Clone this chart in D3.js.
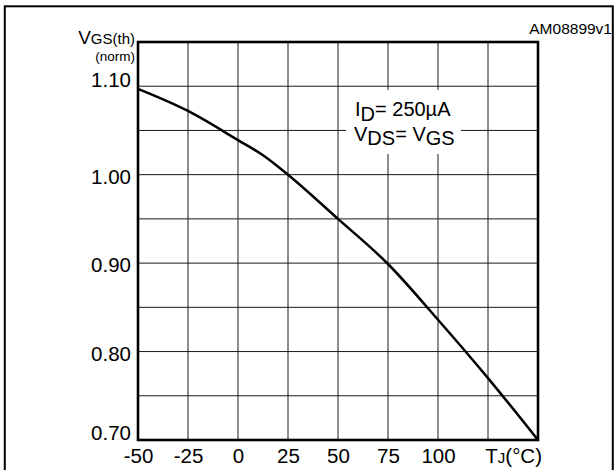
<!DOCTYPE html>
<html>
<head>
<meta charset="utf-8">
<script src="https://cdn.jsdelivr.net/npm/d3@7"></script>
<style>
  html, body { margin: 0; padding: 0; background: #fff; }
  svg { display: block; font-family: "Liberation Sans", Arial, Helvetica, sans-serif; }
</style>
</head>
<body>
<svg id="chart" width="615" height="470"></svg>
<script>
// ---- data ----
const tempC = [-50, -25, 0, 12.5, 25, 50, 75, 100, 125, 150];
const vgsNorm = [1.097, 1.072, 1.039, 1.022, 1.000, 0.950, 0.899, 0.836, 0.770, 0.700];
const xTickValues = [-50, -25, 0, 25, 50, 75, 100];
const xTickLabels = ["-50", "-25", "0", "25", "50", "75", "100"];
const yTickValues = [1.10, 1.00, 0.90, 0.80, 0.70];
const yTickLabels = ["1.10", "1.00", "0.90", "0.80", "0.70"];
const xGridValues = [-25, 0, 25, 50, 75, 100, 125];
const yGridValues = [1.10, 1.05, 1.00, 0.95, 0.90, 0.85, 0.80, 0.75];

const svg = d3.select("#chart");
const plot = { left: 138, right: 538, top: 42, bottom: 440 };

const x = d3.scaleLinear().domain([-50, 150]).range([plot.left, plot.right]);
const y = d3.scaleLinear().domain([0.70, 1.15]).range([plot.bottom, plot.top]);

// outer border
svg.append("rect")
  .attr("x", 4.8).attr("y", 6.3)
  .attr("width", 608).attr("height", 480)
  .attr("fill", "none").attr("stroke", "#000").attr("stroke-width", 2);

// grid
const grid = svg.append("g").attr("stroke", "#1a1a1a").attr("stroke-width", 1);
grid.selectAll("line.v").data(xGridValues).join("line")
  .attr("class", "v")
  .attr("x1", d => x(d)).attr("x2", d => x(d))
  .attr("y1", plot.top).attr("y2", plot.bottom);
grid.selectAll("line.h").data(yGridValues).join("line")
  .attr("class", "h")
  .attr("x1", plot.left).attr("x2", plot.right)
  .attr("y1", d => y(d)).attr("y2", d => y(d));

// curve
const line = d3.line()
  .x((d, i) => x(tempC[i]))
  .y(d => y(d))
  .curve(d3.curveMonotoneX);
svg.append("path")
  .datum(vgsNorm)
  .attr("d", line)
  .attr("fill", "none")
  .attr("stroke", "#000")
  .attr("stroke-width", 2.5);

// annotation with white background
svg.append("rect")
  .attr("x", 346).attr("y", 90).attr("width", 115).attr("height", 64)
  .attr("fill", "#fff");
const ann1 = svg.append("text").attr("x", 355).attr("y", 116)
  .attr("font-size", 20).attr("fill", "#000");
ann1.append("tspan").text("I");
ann1.append("tspan").attr("dy", 4.5).text("D");
ann1.append("tspan").attr("dy", -4.5).text("= 250µA");
const ann2 = svg.append("text").attr("x", 354).attr("y", 140.5)
  .attr("font-size", 20).attr("fill", "#000");
ann2.append("tspan").text("V");
ann2.append("tspan").attr("dy", 4.5).text("DS");
ann2.append("tspan").attr("dy", -4.5).text("= V");
ann2.append("tspan").attr("dy", 4.5).text("GS");

// plot frame
svg.append("rect")
  .attr("x", plot.left).attr("y", plot.top)
  .attr("width", plot.right - plot.left).attr("height", plot.bottom - plot.top)
  .attr("fill", "none").attr("stroke", "#000").attr("stroke-width", 2.6);

// axes (labels only, via d3 axis)
const xAxis = d3.axisBottom(x)
  .tickValues(xTickValues)
  .tickFormat((d, i) => xTickLabels[i])
  .tickSize(0).tickPadding(0);
const gx = svg.append("g").attr("transform", `translate(0,${plot.bottom})`).call(xAxis);
gx.select(".domain").remove();
gx.selectAll("text")
  .attr("font-size", 20.5)
  .attr("font-family", "Liberation Sans, Arial, sans-serif")
  .attr("fill", "#000")
  .attr("dy", null)
  .attr("y", 22.5);

const yAxis = d3.axisLeft(y)
  .tickValues(yTickValues)
  .tickFormat((d, i) => yTickLabels[i])
  .tickSize(0).tickPadding(0);
const gy = svg.append("g").attr("transform", `translate(${plot.left - 7},0)`).call(yAxis);
gy.select(".domain").remove();
gy.selectAll("text")
  .attr("font-size", 20.5)
  .attr("font-family", "Liberation Sans, Arial, sans-serif")
  .attr("fill", "#000")
  .attr("dy", "0.32em")
  .attr("y", (d, i) => (i === 0 ? -6 : i === yTickValues.length - 1 ? -7 : 2));

// x axis title T_J(°C)
const xt = svg.append("text").attr("x", 542).attr("y", 462.5)
  .attr("text-anchor", "end").attr("font-size", 20.5).attr("fill", "#000");
xt.append("tspan").text("T");
xt.append("tspan").attr("font-size", 15).text("J");
xt.append("tspan").text("(°C)");

// y axis title V_GS(th) (norm)
const yt = svg.append("text").attr("x", 135).attr("y", 43.5)
  .attr("text-anchor", "end").attr("fill", "#000");
yt.append("tspan").attr("font-size", 19).text("V");
yt.append("tspan").attr("font-size", 15).text("GS(th)");
svg.append("text").attr("x", 135).attr("y", 60.5)
  .attr("text-anchor", "end").attr("font-size", 13.5).attr("fill", "#000")
  .text("(norm)");

// figure id
svg.append("text").attr("x", 612).attr("y", 33.5)
  .attr("text-anchor", "end").attr("font-size", 15.5).attr("fill", "#000")
  .text("AM08899v1");
</script>
</body>
</html>
